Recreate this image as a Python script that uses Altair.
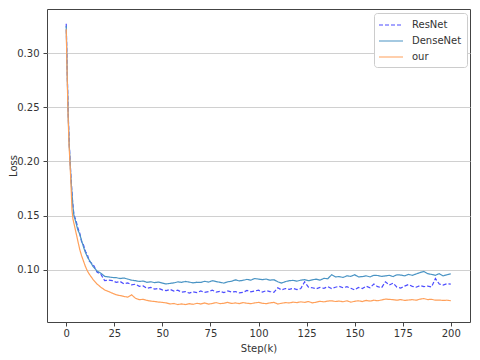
import altair as alt
import pandas as pd

series_names = ["ResNet", "DenseNet", "our"]

steps = [0, 0.5, 1, 1.5, 2, 2.5, 3, 3.5, 4, 5, 6, 7, 8, 9, 10, 11, 12, 14, 16, 18, 20] + list(range(22, 201, 2))

resnet = [0.327, 0.284, 0.246, 0.219, 0.201, 0.184, 0.171, 0.159, 0.151, 0.146, 0.139, 0.134, 0.126, 0.123, 0.117, 0.114, 0.108, 0.105, 0.098, 0.096, 0.090,
          0.0905, 0.0900, 0.0885, 0.0893, 0.0872, 0.0880, 0.0862, 0.0868, 0.0848, 0.0852,
          0.0830, 0.0838, 0.0822, 0.0830, 0.0815, 0.0808, 0.0820, 0.0805, 0.0812, 0.0795,
          0.0800, 0.0785, 0.0798, 0.0790, 0.0805, 0.0792, 0.0800, 0.0812, 0.0795, 0.0802,
          0.0790, 0.0805, 0.0795, 0.0800, 0.0788, 0.0792, 0.0810, 0.0798, 0.0805, 0.0812,
          0.0795, 0.0808, 0.0800, 0.0793, 0.0835, 0.0815, 0.0828, 0.0820, 0.0830, 0.0818,
          0.0828, 0.0890, 0.0840, 0.0835, 0.0825, 0.0838, 0.0830, 0.0845, 0.0828, 0.0840,
          0.0848, 0.0835, 0.0845, 0.0830, 0.0815, 0.0838, 0.0828, 0.0850, 0.0835, 0.0870,
          0.0845, 0.0835, 0.0890, 0.0860, 0.0878, 0.0840, 0.0832, 0.0850, 0.0865, 0.0848,
          0.0840, 0.0855, 0.0845, 0.0850, 0.0842, 0.0920, 0.0870, 0.0860, 0.0872, 0.0868]

densenet = [0.325, 0.282, 0.244, 0.218, 0.200, 0.183, 0.170, 0.158, 0.150, 0.144, 0.137, 0.133, 0.127, 0.121, 0.116, 0.112, 0.109, 0.103, 0.099, 0.097, 0.094,
            0.0935, 0.0930, 0.0928, 0.0920, 0.0925, 0.0915, 0.0905, 0.0900, 0.0893, 0.0897,
            0.0885, 0.0890, 0.0882, 0.0888, 0.0878, 0.0870, 0.0875, 0.0880, 0.0889, 0.0885,
            0.0893, 0.0887, 0.0880, 0.0886, 0.0884, 0.0895, 0.0887, 0.0900, 0.0892, 0.0885,
            0.0878, 0.0890, 0.0895, 0.0908, 0.0898, 0.0904, 0.0912, 0.0905, 0.0920, 0.0915,
            0.0910, 0.0915, 0.0905, 0.0909, 0.0890, 0.0878, 0.0892, 0.0900, 0.0903, 0.0896,
            0.0905, 0.0910, 0.0900, 0.0908, 0.0915, 0.0905, 0.0922, 0.0918, 0.0955, 0.0935,
            0.0938, 0.0930, 0.0945, 0.0940, 0.0955, 0.0935, 0.0938, 0.0945, 0.0935, 0.0950,
            0.0948, 0.0940, 0.0944, 0.0950, 0.0938, 0.0955, 0.0952, 0.0945, 0.0958, 0.0950,
            0.0962, 0.0975, 0.0985, 0.0965, 0.0958, 0.0950, 0.0965, 0.0945, 0.0955, 0.0963]

our = [0.322, 0.278, 0.240, 0.214, 0.197, 0.178, 0.155, 0.147, 0.143, 0.135, 0.127, 0.119, 0.113, 0.108, 0.103, 0.099, 0.096, 0.091, 0.087, 0.084, 0.0815,
       0.0800, 0.0785, 0.0770, 0.0763, 0.0755, 0.0748, 0.0770, 0.0738, 0.0725, 0.0728,
       0.0718, 0.0712, 0.0708, 0.0703, 0.0700, 0.0695, 0.0685, 0.0690, 0.0680, 0.0686,
       0.0680, 0.0688, 0.0682, 0.0692, 0.0685, 0.0695, 0.0684, 0.0690, 0.0698, 0.0688,
       0.0692, 0.0700, 0.0690, 0.0695, 0.0688, 0.0698, 0.0692, 0.0688, 0.0695, 0.0700,
       0.0692, 0.0688, 0.0695, 0.0700, 0.0685, 0.0692, 0.0698, 0.0695, 0.0702, 0.0698,
       0.0705, 0.0700, 0.0708, 0.0695, 0.0702, 0.0710, 0.0705, 0.0712, 0.0715, 0.0708,
       0.0712, 0.0706, 0.0715, 0.0702, 0.0710, 0.0715, 0.0708, 0.0718, 0.0712, 0.0720,
       0.0715, 0.0722, 0.0730, 0.0728, 0.0725, 0.0720, 0.0726, 0.0718, 0.0722, 0.0725,
       0.0720, 0.0730, 0.0735, 0.0726, 0.0728, 0.0720, 0.0722, 0.0718, 0.0720, 0.0716]

x_ticks = [0, 25, 50, 75, 100, 125, 150, 175, 200]
y_ticks = [0.10, 0.15, 0.20, 0.25, 0.30]

rows = []
for name, vals in zip(series_names, [resnet, densenet, our]):
    for i, (s, v) in enumerate(zip(steps, vals)):
        rows.append({"step": s, "loss": v, "model": name, "order": i})
df = pd.DataFrame(rows)

colors = ["#4d4dff", "#4a94c4", "#ffa05a"]
dashes = [[4, 2], [1, 0], [1, 0]]

chart = alt.Chart(df).mark_line(strokeWidth=1.2).encode(
    x=alt.X("step:Q", title="Step(k)",
            scale=alt.Scale(domain=[-10, 210], nice=False, zero=False),
            axis=alt.Axis(values=x_ticks, grid=False, format="d")),
    y=alt.Y("loss:Q", title="Loss",
            scale=alt.Scale(domain=[0.0519, 0.3407], nice=False, zero=False),
            axis=alt.Axis(values=y_ticks, grid=True, format=".2f",
                          titleX=-31, titleBaseline="alphabetic", labelPadding=4)),
    color=alt.Color("model:N", title=None,
                    scale=alt.Scale(domain=series_names, range=colors)),
    strokeDash=alt.StrokeDash("model:N", title=None,
                              scale=alt.Scale(domain=series_names, range=dashes)),
    order="order:Q",
).properties(
    width=423, height=313,
    autosize=alt.AutoSizeParams(type="none"),
    padding={"left": 39, "top": 1, "right": 2, "bottom": 38},
).configure_view(
    stroke="#444", strokeWidth=1
).configure_axis(
    domain=False,
    tickColor="#444", tickSize=4, tickWidth=1,
    labelFont="DejaVu Sans", labelFontSize=10, labelColor="#333", labelPadding=2,
    titleFont="DejaVu Sans", titleFontSize=10, titleColor="#333", titleFontWeight="normal",
    gridColor="#d0d0d0", gridWidth=1,
).configure_axisX(
    titlePadding=5
).configure_legend(
    orient="none", legendX=327, legendY=4,
    fillColor="white", strokeColor="#cccccc", cornerRadius=3, padding=5,
    labelFont="DejaVu Sans", labelFontSize=10, labelColor="#333",
    symbolType="M-2,0H2", symbolSize=144, symbolStrokeWidth=1.2,
    symbolOffset=5, labelOffset=14, rowPadding=4,
)

chart.save("out.html", embed_options={"renderer": "svg", "actions": False})
